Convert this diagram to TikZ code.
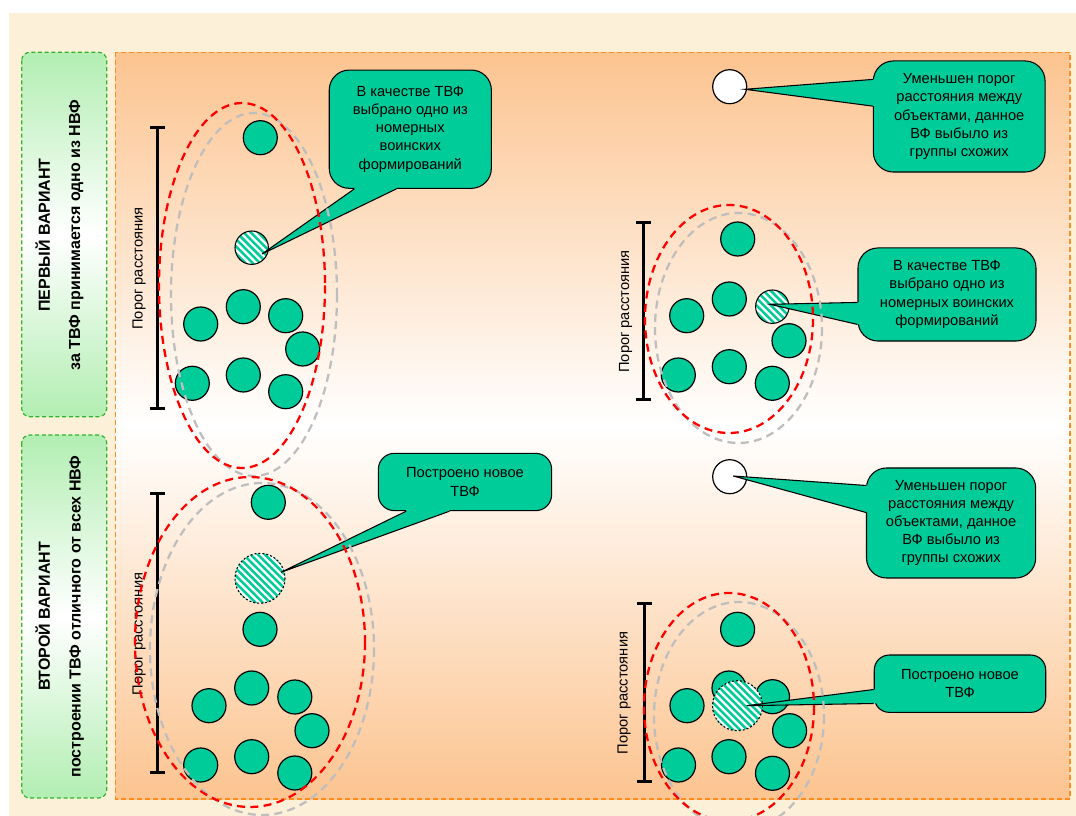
\documentclass[tikz,border=0pt]{standalone}
\usepackage{fontspec}
\setmainfont{Liberation Sans}
\usetikzlibrary{calc}
\definecolor{teal1}{RGB}{0,204,153}
\definecolor{beige}{RGB}{252,240,216}
\definecolor{orng}{RGB}{252,196,144}
\definecolor{orngline}{RGB}{255,140,30}
\definecolor{grn}{RGB}{178,238,178}
\definecolor{grnline}{RGB}{50,180,50}
\definecolor{gry}{RGB}{190,190,190}
\newcommand\mytail[4]{%
  \fill[teal1] (#1) -- (#2) -- ($(#2)+#4$) -- ($(#3)+#4$) -- (#3) -- cycle;
  \draw[tailline] (#2) -- (#1) -- (#3);}
% stripes inside a hatched circle node: #1 name, #2 radius (px), #3 border style
\newcommand\myhatch[3]{%
  \begin{scope}
    \clip (#1) circle [radius=#2];
    \foreach \k in {-9,...,9}
      \draw[teal1,line width=1.9pt] ($(#1)+(\k*3.6-40,-\k*3.6-40)$) -- ($(#1)+(\k*3.6+40,-\k*3.6+40)$);
  \end{scope}
  \draw[#3] (#1) circle [radius=#2];}
\begin{document}
\begin{tikzpicture}[x=0.75pt,y=-0.75pt,
  dot/.style={circle,draw=black,line width=0.9pt,fill=teal1,minimum size=25.5pt,inner sep=0pt},
  wdot/.style={dot,fill=white},
  hdot/.style={circle,fill=white,minimum size=25pt,inner sep=0pt},
  hbig/.style={hdot,minimum size=37.5pt},
  hsolid/.style={draw=black,line width=0.8pt},
  hdash/.style={draw=black,line width=0.8pt,dash pattern=on 1.5pt off 1.5pt},
  cbox/.style={rectangle,draw=black,line width=0.8pt,fill=teal1,inner sep=0pt,rounded corners=15pt,
     align=center,font=\fontsize{11}{13.6}\selectfont},
  tailline/.style={draw=black,line width=0.8pt},
  bar/.style={line width=2.25pt},
  lbl/.style={rotate=90,font=\fontsize{11}{13}\selectfont,inner sep=0pt},
  redell/.style={draw=red,line width=1.7pt,dash pattern=on 6pt off 4pt},
  grayell/.style={draw=gry,line width=1.7pt,dash pattern=on 6pt off 4pt},
  ptitle/.style={rotate=90,anchor=base,font=\fontsize{12}{14}\selectfont\bfseries,inner sep=0pt},
  panelgreen/.style={draw=grnline,line width=0.9pt,dash pattern=on 3pt off 2pt,rounded corners=6pt,
     top color=grn,bottom color=grn,middle color=white},
]
\useasboundingbox (0,0) rectangle (1076,816);
\clip (0,0) rectangle (1076,816);
% background
\fill[white] (0,0) rectangle (1076,816);
\fill[beige] (9,12.7) rectangle (1076,816);
% left panels
\draw[panelgreen] (21.7,52.3) rectangle (106.7,416.7);
\draw[panelgreen] (21.7,435) rectangle (106.7,798);
% main panel
\draw[draw=orngline,line width=0.9pt,dash pattern=on 3.5pt off 2.5pt,
      top color=orng,bottom color=orng,middle color=white] (115.7,52.3) rectangle (1070,799);
% titles
\node[ptitle] (t1a) at (50,235) {ПЕРВЫЙ ВАРИАНТ};
\node[ptitle] (t1b) at (80,235) {за ТВФ принимается одно из НВФ};
\node[ptitle] (t2a) at (50,616.5) {ВТОРОЙ ВАРИАНТ};
\node[ptitle] (t2b) at (80.5,616.5) {построении ТВФ отличного от всех НВФ};
% scale bars
\draw[bar] (157.5,128) -- (157.5,409) (150,128) -- (165,128) (150,409) -- (165,409);
\draw[bar] (643.5,222.7) -- (643.5,400) (636,222.7) -- (651,222.7) (636,400) -- (651,400);
\draw[bar] (157.5,493.3) -- (157.5,773) (150,493.3) -- (165,493.3) (150,773) -- (165,773);
\draw[bar] (644,603.3) -- (644,781.7) (636.5,603.3) -- (651.5,603.3) (636.5,781.7) -- (651.5,781.7);
\node[lbl] (lA) at (139,268.5) {Порог расстояния};
\node[lbl] (lB) at (625.5,311.5) {Порог расстояния};
\node[lbl] (lC) at (139,634) {Порог расстояния};
\node[lbl] (lD) at (624,693) {Порог расстояния};
% group A
\node[dot] (a1) at (260.3,137.7) {};
\node[hdot] (hA) at (251.7,247.7) {};
\myhatch{hA}{16.7}{hsolid}
\node[dot] (a2) at (243.3,306.7) {};
\node[dot] (a3) at (200.7,324) {};
\node[dot] (a4) at (285.7,315.7) {};
\node[dot] (a5) at (302.7,349) {};
\node[dot] (a6) at (192.3,383.3) {};
\node[dot] (a7) at (243.3,375) {};
\node[dot] (a8) at (285.7,391.7) {};
% group B
\node[wdot] (wB) at (729.7,86.7) {};
\node[dot] (b1) at (737.7,239) {};
\node[dot] (b2) at (729.3,299) {};
\node[dot] (b3) at (686.7,315.7) {};
\node[hdot] (hB) at (772.3,306.7) {};
\myhatch{hB}{16.7}{hsolid}
\node[dot] (b4) at (789,340.7) {};
\node[dot] (b5) at (678.3,375) {};
\node[dot] (b6) at (729.3,366.7) {};
\node[dot] (b7) at (772.3,383.3) {};
% group C
\node[dot] (c1) at (268.3,502.3) {};
\node[hbig] (hC) at (260,578.3) {};
\myhatch{hC}{25}{hdash}
\node[dot] (c2) at (260,629.3) {};
\node[dot] (c3) at (251.7,688) {};
\node[dot] (c4) at (209,705.7) {};
\node[dot] (c5) at (294.8,697) {};
\node[dot] (c6) at (312,730.7) {};
\node[dot] (c7) at (200.7,765) {};
\node[dot] (c8) at (251.7,756.7) {};
\node[dot] (c9) at (294.8,773) {};
% group D
\node[wdot] (wE) at (729.7,476.7) {};
\node[dot] (d1) at (737.6,629.3) {};
\node[dot] (d2) at (729,688) {};
\node[dot] (d3) at (772.5,696.7) {};
\node[dot] (d4) at (687,705.7) {};
\node[dot] (d5) at (789.6,730.7) {};
\node[dot] (d6) at (678.5,765) {};
\node[dot] (d7) at (729,756.7) {};
\node[dot] (d8) at (772.5,773.3) {};
\node[hbig] (hD) at (737.5,705.7) {};
\myhatch{hD}{25}{hdash}
% callout boxes
\node[cbox,minimum width=121.6pt,minimum height=88.7pt] (cA) at (410.3,129.2)
  {В качестве ТВФ\\выбрано одно из\\номерных\\воинских\\формирований};
\node[cbox,minimum width=128.8pt,minimum height=83.3pt] (cB) at (959.2,116.5)
  {Уменьшен порог\\расстояния между\\объектами, данное\\ВФ выбыло из\\группы схожих};
\node[cbox,minimum width=133.5pt,minimum height=69.8pt] (cC) at (947,294.5)
  {В качестве ТВФ\\выбрано одно из\\номерных воинских\\формирований};
\node[cbox,rounded corners=12pt,minimum width=130pt,minimum height=43pt] (cD) at (465,482)
  {Построено новое\\ТВФ};
\node[cbox,minimum width=126.9pt,minimum height=82.5pt] (cE) at (951.1,523)
  {Уменьшен порог\\расстояния между\\объектами, данное\\ВФ выбыло из\\группы схожих};
\node[cbox,rounded corners=11.25pt,minimum width=128.6pt,minimum height=43pt] (cF) at (960,683.7)
  {Построено новое\\ТВФ};
% tails
\coordinate (tA) at ($(hA)+(10.3,6.3)$);
\coordinate (pA1) at ($(cA.south west)+(25.7,0)$);
\coordinate (pA2) at ($(cA.south west)+(67.7,0)$);
\mytail{tA}{pA1}{pA2}{(0,-3)}
\coordinate (tB) at ($(wB)+(15.3,2.6)$);
\coordinate (pB1) at ($(cB.north west)+(0,19)$);
\coordinate (pB2) at ($(cB.north west)+(0,45.7)$);
\mytail{tB}{pB1}{pB2}{(3,0)}
\coordinate (tC) at ($(hB)+(-2.3,-2.4)$);
\coordinate (pC1) at ($(cC.north west)+(0,55)$);
\coordinate (pC2) at ($(cC.north west)+(0,77)$);
\mytail{tC}{pC1}{pC2}{(3,0)}
\coordinate (tD) at ($(hC)+(21,-6)$);
\coordinate (pD1) at ($(cD.south west)+(28.4,0)$);
\coordinate (pD2) at ($(cD.south west)+(71.7,0)$);
\mytail{tD}{pD1}{pD2}{(0,-3)}
\coordinate (tE) at ($(wE)+(3.5,-0.7)$);
\coordinate (pE1) at ($(cE.north west)+(0,18)$);
\coordinate (pE2) at ($(cE.north west)+(0,45)$);
\mytail{tE}{pE1}{pE2}{(3,0)}
\coordinate (tF) at ($(hD)+(9.2,0)$);
\coordinate (pF1) at ($(cF.north west)+(0,35)$);
\coordinate (pF2) at ($(cF.north west)+(0,49)$);
\mytail{tF}{pF1}{pF2}{(3,0)}
% ellipses
\draw[grayell] (254,294.5) ellipse [x radius=83,y radius=181.5];
\draw[redell] (242,285.5) ellipse [x radius=83,y radius=182.5];
\draw[grayell] (738.5,328) ellipse [x radius=83.5,y radius=115];
\draw[redell] (729,319) ellipse [x radius=84,y radius=114];
\draw[grayell] (262,649) ellipse [x radius=112,y radius=166];
\draw[redell] (250,642) ellipse [x radius=115,y radius=165];
\draw[grayell] (739,716) ellipse [x radius=85,y radius=114];
\draw[redell] (729,707) ellipse [x radius=85,y radius=114];
\end{tikzpicture}
\end{document}
